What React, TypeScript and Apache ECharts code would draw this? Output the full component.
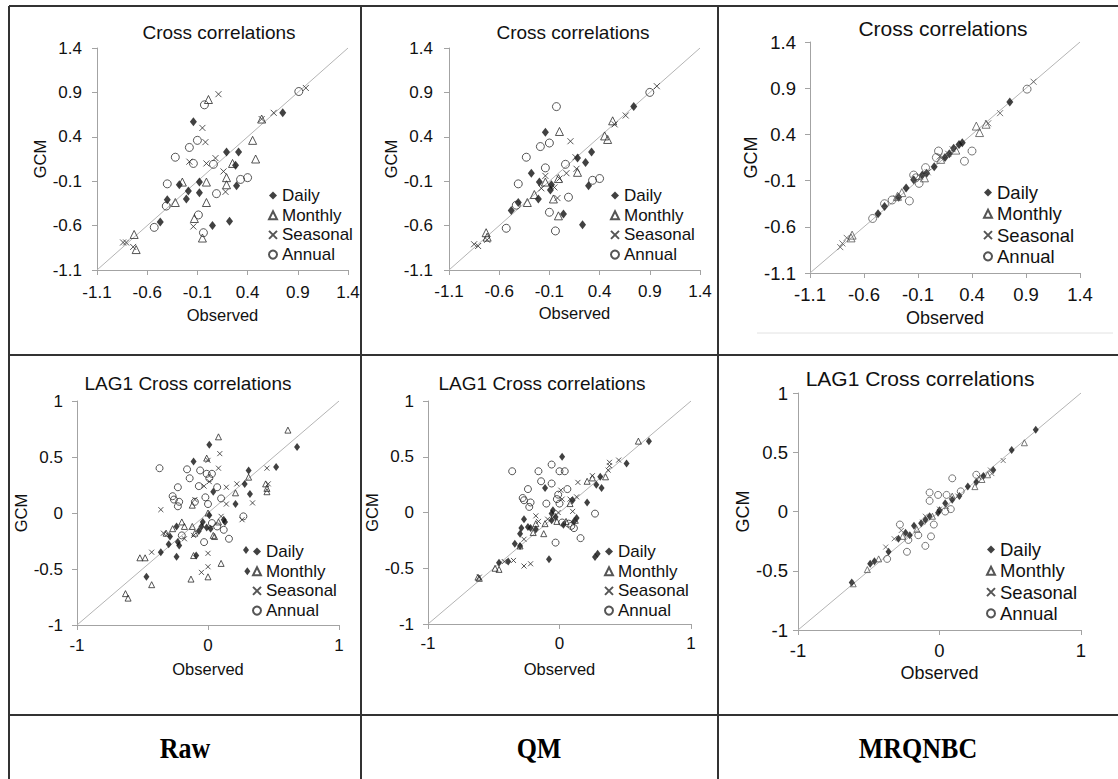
import React, { useEffect, useRef } from 'react';
import * as echarts from 'echarts';

// ---------- DATA ----------
const seriesNames = ['Daily', 'Monthly', 'Seasonal', 'Annual'];
const panelTitles = ['Cross correlations', 'Cross correlations', 'Cross correlations',
  'LAG1 Cross correlations', 'LAG1 Cross correlations', 'LAG1 Cross correlations'];
const columnLabels = ['Raw', 'QM', 'MRQNBC'];
const crossTicks = [-1.1, -0.6, -0.1, 0.4, 0.9, 1.4];
const lagYTicks = [-1, -0.5, 0, 0.5, 1];
const lagXTicks = [-1, 0, 1];

const rawCrossDaily = [[-0.14,0.57],[0.19,0.23],[0.31,0.23],[0.28,0.08],[-0.08,-0.11],[-0.28,-0.14],[0.29,-0.15],[-0.19,-0.21],[-0.08,-0.23],[-0.21,-0.30],[-0.40,-0.31],[-0.47,-0.56],[0.05,-0.60],[0.22,-0.55],[0.75,0.67]];
const rawCrossMonthly = [[0.01,0.82],[0.54,0.60],[0.45,0.36],[0.48,0.15],[0.25,0.10],[0.19,-0.06],[0.19,-0.14],[-0.01,-0.11],[-0.25,-0.11],[-0.32,-0.34],[-0.01,-0.34],[-0.13,-0.52],[-0.05,-0.74],[-0.73,-0.70],[-0.71,-0.87]];
const rawCrossSeasonal = [[0.11,0.88],[0.98,0.95],[0.66,0.67],[0.54,0.60],[-0.05,0.50],[-0.02,0.34],[0.08,0.16],[-0.18,0.12],[-0.01,0.10],[0.16,0.01],[0.18,-0.22],[-0.14,-0.61],[-0.84,-0.79],[-0.81,-0.79],[-0.74,-0.84]];
const rawCrossAnnual = [[-0.03,0.76],[0.91,0.91],[-0.10,0.36],[-0.18,0.28],[-0.32,0.17],[-0.14,0.10],[0.06,0.09],[0.40,-0.06],[0.33,-0.08],[-0.40,-0.13],[0.09,-0.24],[-0.41,-0.38],[-0.09,-0.48],[-0.04,-0.68],[-0.53,-0.62]];

const qmCrossDaily = [[-0.14,0.45],[0.74,0.74],[0.32,0.23],[0.18,0.16],[0.26,0.11],[-0.28,-0.01],[-0.20,-0.11],[-0.08,-0.14],[-0.09,-0.20],[0.29,-0.15],[-0.21,-0.30],[-0.41,-0.34],[-0.48,-0.43],[0.04,-0.47],[0.23,-0.59]];
const qmCrossMonthly = [[0.00,0.46],[0.53,0.58],[0.45,0.41],[0.48,0.37],[0.18,0.00],[-0.01,-0.07],[-0.14,-0.11],[-0.25,-0.25],[-0.32,-0.34],[-0.06,-0.30],[-0.01,-0.49],[-0.73,-0.68],[-0.72,-0.73]];
const qmCrossSeasonal = [[0.97,0.97],[0.66,0.64],[0.55,0.54],[0.11,0.35],[0.16,0.17],[0.17,0.04],[0.07,-0.01],[-0.14,-0.04],[0.00,-0.07],[-0.18,-0.18],[-0.05,-0.17],[-0.02,-0.29],[-0.85,-0.81],[-0.81,-0.83],[-0.72,-0.76]];
const qmCrossAnnual = [[-0.03,0.74],[0.90,0.90],[-0.19,0.29],[-0.10,0.33],[-0.33,0.17],[-0.14,0.05],[0.06,0.09],[-0.41,-0.13],[0.33,-0.09],[0.40,-0.07],[0.09,-0.28],[-0.43,-0.37],[-0.10,-0.45],[-0.04,-0.66],[-0.53,-0.63]];

const mrqCrossDaily = [[0.75,0.75],[0.31,0.31],[0.28,0.29],[0.23,0.25],[0.19,0.19],[0.05,0.05],[-0.06,-0.04],[-0.14,-0.09],[-0.21,-0.18],[-0.28,-0.28],[-0.41,-0.38],[-0.47,-0.46],[0.15,0.15],[-0.02,-0.02]];
const mrqCrossMonthly = [[0.44,0.49],[0.47,0.42],[0.53,0.51],[0.25,0.23],[-0.25,-0.23],[-0.29,-0.27],[-0.71,-0.69],[-0.04,-0.07],[0.11,0.13],[-0.72,-0.72]];
const mrqCrossSeasonal = [[0.97,0.97],[0.66,0.63],[0.55,0.52],[0.10,0.16],[-0.01,-0.01],[-0.08,-0.06],[-0.30,-0.29],[-0.82,-0.82],[-0.80,-0.78],[-0.76,-0.72],[0.18,0.19],[0.22,0.24]];
const mrqCrossAnnual = [[0.91,0.89],[0.40,0.22],[0.33,0.11],[0.09,0.22],[0.07,0.15],[-0.03,0.04],[-0.14,-0.04],[-0.09,-0.13],[-0.18,-0.32],[-0.34,-0.31],[-0.41,-0.35],[-0.52,-0.51],[-0.12,-0.07]];

const rawLagDaily = [[0.01,0.61],[-0.11,0.46],[0.31,0.38],[0.52,0.41],[0.68,0.59],[0.28,0.26],[0.32,0.17],[0.21,0.08],[0.04,0.19],[0.01,-0.02],[-0.04,-0.08],[-0.05,-0.12],[-0.01,-0.13],[-0.07,-0.16],[0.02,-0.14],[0.12,-0.06],[0.13,-0.08],[-0.24,-0.12],[-0.23,-0.26],[-0.22,-0.29],[-0.29,-0.21],[-0.30,-0.28],[-0.36,-0.35],[-0.24,-0.39],[-0.09,-0.38],[-0.47,-0.57],[0.29,-0.33],[0.30,-0.52]];
const rawLagMonthly = [[0.08,0.68],[0.61,0.74],[-0.01,0.49],[0.31,0.32],[0.44,0.26],[0.45,0.22],[0.45,0.19],[0.21,0.18],[-0.12,0.07],[-0.20,-0.08],[-0.18,-0.12],[-0.27,-0.14],[-0.12,-0.12],[-0.10,-0.18],[0.04,-0.20],[0.05,-0.21],[0.08,-0.08],[0.00,0.00],[-0.32,-0.18],[-0.52,-0.40],[-0.48,-0.40],[-0.43,-0.64],[-0.63,-0.72],[-0.61,-0.76],[-0.13,-0.59],[0.00,-0.57],[0.10,-0.45],[-0.11,-0.38]];
const rawLagSeasonal = [[0.09,0.53],[0.08,0.40],[0.00,0.47],[-0.03,0.24],[0.01,0.28],[0.14,0.23],[0.22,0.26],[0.14,0.08],[0.34,0.09],[0.45,0.40],[0.46,0.26],[-0.10,0.12],[-0.36,0.03],[-0.34,-0.18],[-0.31,-0.19],[-0.11,-0.20],[0.10,-0.03],[0.26,-0.06],[-0.43,-0.35],[0.00,-0.36],[0.00,-0.48],[-0.05,-0.53],[-0.18,-0.23]];
const rawLagAnnual = [[-0.37,0.40],[-0.16,0.39],[-0.06,0.38],[-0.01,0.35],[0.03,0.35],[0.01,0.31],[-0.14,0.31],[-0.23,0.23],[-0.07,0.24],[0.07,0.23],[-0.27,0.15],[-0.26,0.12],[-0.22,0.10],[-0.23,0.06],[-0.10,0.10],[-0.02,0.14],[0.00,0.08],[0.10,0.13],[0.27,-0.03],[-0.20,-0.20],[0.03,-0.09],[0.07,-0.12],[0.12,-0.15],[-0.03,-0.26],[0.16,-0.23]];

const qmLagDaily = [[0.02,0.50],[0.68,0.64],[0.51,0.44],[-0.11,0.22],[0.31,0.32],[0.28,0.25],[0.32,0.22],[0.21,0.09],[0.10,0.11],[-0.05,0.02],[-0.06,-0.01],[-0.03,-0.04],[-0.06,-0.07],[0.03,-0.11],[0.13,-0.05],[0.11,-0.08],[-0.27,-0.06],[-0.24,-0.13],[-0.22,-0.14],[-0.18,-0.15],[-0.29,-0.14],[-0.30,-0.19],[-0.34,-0.28],[-0.30,-0.30],[-0.39,-0.44],[-0.46,-0.45],[-0.08,-0.42],[0.27,-0.40],[0.29,-0.37]];
const qmLagMonthly = [[0.60,0.64],[0.35,0.32],[0.21,0.28],[0.25,0.31],[0.08,0.08],[-0.02,-0.08],[-0.11,-0.10],[-0.18,-0.10],[-0.12,-0.19],[-0.20,-0.18],[0.05,-0.08],[-0.49,-0.50],[-0.46,-0.51],[-0.62,-0.58],[-0.61,-0.59],[-0.30,-0.30],[0.12,-0.07]];
const qmLagSeasonal = [[0.45,0.47],[0.38,0.45],[0.38,0.42],[0.37,0.38],[0.14,0.27],[0.25,0.33],[0.13,0.14],[0.08,0.12],[0.01,0.20],[0.02,0.12],[0.10,0.01],[-0.18,-0.03],[-0.09,-0.06],[-0.01,0.00],[-0.16,-0.08],[-0.35,-0.43],[-0.27,-0.48],[-0.22,-0.46],[-0.27,-0.24],[-0.61,-0.58],[-0.42,-0.44]];
const qmLagAnnual = [[-0.36,0.37],[-0.16,0.37],[-0.06,0.43],[0.00,0.37],[0.04,0.37],[-0.14,0.28],[-0.06,0.26],[0.06,0.21],[-0.24,0.21],[-0.28,0.13],[-0.27,0.11],[-0.22,0.09],[-0.23,0.05],[-0.10,0.08],[-0.02,0.12],[0.00,0.08],[-0.01,0.16],[0.27,-0.01],[-0.03,-0.27],[0.09,-0.12],[0.11,-0.14],[0.16,-0.23],[0.02,-0.09],[0.07,-0.10]];

const mrqLagDaily = [[0.68,0.69],[0.51,0.52],[0.38,0.35],[0.31,0.30],[0.26,0.25],[0.20,0.21],[0.14,0.13],[0.09,0.10],[0.04,0.07],[0.00,0.01],[-0.01,-0.01],[-0.07,-0.04],[-0.10,-0.07],[-0.18,-0.12],[-0.24,-0.18],[-0.29,-0.23],[-0.36,-0.34],[-0.46,-0.42],[-0.49,-0.44],[-0.62,-0.60],[-0.13,-0.10],[-0.21,-0.20]];
const mrqLagMonthly = [[0.60,0.58],[0.25,0.21],[0.30,0.27],[0.34,0.31],[0.09,0.13],[-0.05,-0.04],[-0.16,-0.15],[-0.26,-0.21],[-0.51,-0.49],[-0.61,-0.61],[-0.43,-0.40]];
const mrqLagSeasonal = [[0.45,0.43],[0.37,0.32],[0.36,0.35],[0.28,0.29],[0.13,0.13],[-0.10,-0.04],[-0.12,-0.09],[-0.27,-0.16],[-0.32,-0.23],[-0.38,-0.30],[0.00,0.02],[0.05,0.04]];
const mrqLagAnnual = [[0.09,0.28],[-0.07,0.16],[-0.01,0.14],[0.05,0.14],[-0.07,0.09],[0.08,0.02],[0.04,0.00],[-0.04,-0.11],[-0.06,-0.21],[-0.10,-0.29],[-0.28,-0.11],[-0.23,-0.34],[-0.22,-0.24],[-0.15,-0.20],[-0.37,-0.40],[0.15,0.17],[0.26,0.31]];

const panelData = [
  [rawCrossDaily, rawCrossMonthly, rawCrossSeasonal, rawCrossAnnual],
  [qmCrossDaily, qmCrossMonthly, qmCrossSeasonal, qmCrossAnnual],
  [mrqCrossDaily, mrqCrossMonthly, mrqCrossSeasonal, mrqCrossAnnual],
  [rawLagDaily, rawLagMonthly, rawLagSeasonal, rawLagAnnual],
  [qmLagDaily, qmLagMonthly, qmLagSeasonal, qmLagAnnual],
  [mrqLagDaily, mrqLagMonthly, mrqLagSeasonal, mrqLagAnnual],
];

// ---------- LAYOUT ----------
const FONT = '"Liberation Sans", Arial, sans-serif';
const layout = [
  { grid: { left: 97, top: 48, width: 251, height: 222 }, cross: true, fs: 17, lfs: 17, nfs: 16.5, tfs: 19, title: [219, 32],
    legend: [268, 187, 2.7], xGap: 36, yGap: 46, xM: 14, yM: 15, big: false },
  { grid: { left: 449, top: 48, width: 251, height: 222 }, cross: true, fs: 17, lfs: 17, nfs: 16.5, tfs: 19, title: [573, 32],
    legend: [610, 187, 2.7], xGap: 34, yGap: 48, xM: 13, yM: 16, big: false },
  { grid: { left: 810, top: 42, width: 270, height: 231 }, cross: true, fs: 18.5, lfs: 18.5, nfs: 18, tfs: 21, title: [943, 28],
    legend: [983, 183, 2.3], xGap: 36, yGap: 50, xM: 12, yM: 14, big: true },
  { grid: { left: 77, top: 401, width: 262, height: 224 }, cross: false, fs: 17, lfs: 17, nfs: 16.5, tfs: 19, title: [188, 383],
    legend: [252, 543, 2.7], xGap: 35, yGap: 32, xM: 12, yM: 14, big: false },
  { grid: { left: 428, top: 401, width: 263, height: 223 }, cross: false, fs: 17, lfs: 17, nfs: 16.5, tfs: 19, title: [542, 383],
    legend: [604, 543, 2.7], xGap: 36, yGap: 32, xM: 11, yM: 14, big: false },
  { grid: { left: 798, top: 393, width: 283, height: 237 }, cross: false, fs: 18.5, lfs: 18.5, nfs: 18, tfs: 21, title: [920, 378],
    legend: [986, 540, 2.3], xGap: 34, yGap: 37, xM: 11, yM: 10, big: true },
];

const CROSS = 'path://M0,0L10,10M10,0L0,10';
const AXIS_GRAY = '#a3a3a3';
const INK = '#111';

function fmt(v: number) {
  const r = Math.round(v * 10) / 10;
  return String(r === 0 ? 0 : r);
}
function fmt1(v: number) {
  const r = Math.round(v * 10) / 10;
  return (r === 0 ? 0 : r).toFixed(1);
}

function buildOption() {
  const grids: any[] = [];
  const xAxes: any[] = [];
  const yAxes: any[] = [];
  const legends: any[] = [];
  const series: any[] = [];
  const graphics: any[] = [];

  layout.forEach((p, i) => {
    const xt = p.cross ? crossTicks : lagXTicks;
    const yt = p.cross ? crossTicks : lagYTicks;
    const lo = yt[0];
    const hi = yt[yt.length - 1];
    grids.push({ ...p.grid, containLabel: false });
    const common = (ticks: number[], name: string, gap: number, margin: number) => ({
      gridIndex: i,
      type: 'value',
      min: ticks[0],
      max: ticks[ticks.length - 1],
      interval: ticks[1] - ticks[0],
      name,
      nameLocation: 'middle',
      nameGap: gap,
      nameTextStyle: { fontSize: p.nfs, fontFamily: FONT, color: INK },
      axisLine: { show: true, onZero: false, lineStyle: { color: AXIS_GRAY, width: 1 } },
      axisTick: { show: true, length: 5, lineStyle: { color: AXIS_GRAY, width: 1 } },
      splitLine: { show: false },
      axisLabel: {
        fontSize: p.fs, fontFamily: FONT, color: INK, margin, hideOverlap: false,
        showMinLabel: true, showMaxLabel: true,
        formatter: (v: number) => (p.cross ? fmt1(v) : fmt(v)),
      },
    });
    xAxes.push(common(xt, 'Observed', p.xGap, p.xM));
    yAxes.push(common(yt, 'GCM', p.yGap, p.yM));

    // 1:1 line
    series.push({
      type: 'line', xAxisIndex: i, yAxisIndex: i, data: [[lo, lo], [hi, hi]],
      symbol: 'none', silent: true, z: 1, animation: false,
      lineStyle: { color: '#b4b4b4', width: 1 },
    });
    const small = !p.cross;
    const outline = p.big ? '#555' : '#2a2a2a';
    const styles = [
      { symbol: 'diamond', symbolSize: small ? [6, 8] : [7, 9], itemStyle: { color: INK } },
      { symbol: 'triangle', symbolSize: small ? 6 : 8, itemStyle: { color: 'rgba(255,255,255,0)', borderColor: outline, borderWidth: 1 } },
      { symbol: CROSS, symbolSize: small ? 5 : 6, itemStyle: { color: 'rgba(255,255,255,0)', borderColor: outline, borderWidth: 1 } },
      { symbol: 'circle', symbolSize: small ? 7 : 8, itemStyle: { color: 'rgba(255,255,255,0)', borderColor: outline, borderWidth: 1 } },
    ];
    seriesNames.forEach((nm, k) => {
      series.push({
        type: 'scatter', name: nm, xAxisIndex: i, yAxisIndex: i,
        data: panelData[i][k], z: 3,
        ...styles[k],
        emphasis: { disabled: true },
      });
    });

    legends.push({
      orient: 'vertical', left: p.legend[0], top: p.legend[1], padding: 0,
      itemWidth: 8, itemHeight: 8, itemGap: p.legend[2], selectedMode: false,
      data: seriesNames,
      textStyle: { fontSize: p.lfs, lineHeight: p.lfs, fontFamily: FONT, color: INK },
    });

    graphics.push({
      type: 'text', x: p.title[0], y: p.title[1], silent: true,
      style: {
        text: panelTitles[i], fontSize: p.tfs, fontFamily: FONT, fill: INK,
        align: 'center', verticalAlign: 'middle', textAlign: 'center', textVerticalAlign: 'middle',
      },
    });
  });

  // Table rules
  const rule = { stroke: '#333', lineWidth: 2 };
  const lines = [
    [9, 6, 1118, 6], [9, 355, 1118, 355], [9, 715, 1118, 715],
    [9, 6, 9, 779], [361, 6, 361, 779], [718, 6, 718, 779],
  ];
  lines.forEach((l) => graphics.push({ type: 'line', silent: true, shape: { x1: l[0], y1: l[1], x2: l[2], y2: l[3] }, style: rule }));
  graphics.push({ type: 'line', silent: true, shape: { x1: 757, y1: 333, x2: 1113, y2: 333 }, style: { stroke: '#e2e2e2', lineWidth: 1 } });

  const colCenters = [185, 539, 918];
  columnLabels.forEach((t, i) => {
    graphics.push({
      type: 'text', x: colCenters[i], y: 748, scaleY: 1.15, silent: true,
      style: {
        text: t, fontSize: 26, fontWeight: 'bold', fontFamily: '"Liberation Serif", "Times New Roman", serif', fill: '#000',
        align: 'center', verticalAlign: 'middle', textAlign: 'center', textVerticalAlign: 'middle',
      },
    });
  });

  return {
    animation: false,
    backgroundColor: '#fff',
    grid: grids,
    xAxis: xAxes,
    yAxis: yAxes,
    legend: legends,
    series,
    graphic: graphics,
  };
}

export default function App() {
  const ref = useRef<HTMLDivElement>(null);
  useEffect(() => {
    if (!ref.current) return;
    const chart = echarts.init(ref.current, null, { renderer: 'svg' });
    chart.setOption(buildOption() as any);
    return () => chart.dispose();
  }, []);
  return (
    <div
      ref={ref}
      style={{ position: 'absolute', left: 0, top: 0, width: 1118, height: 779, background: '#fff' }}
    />
  );
}
